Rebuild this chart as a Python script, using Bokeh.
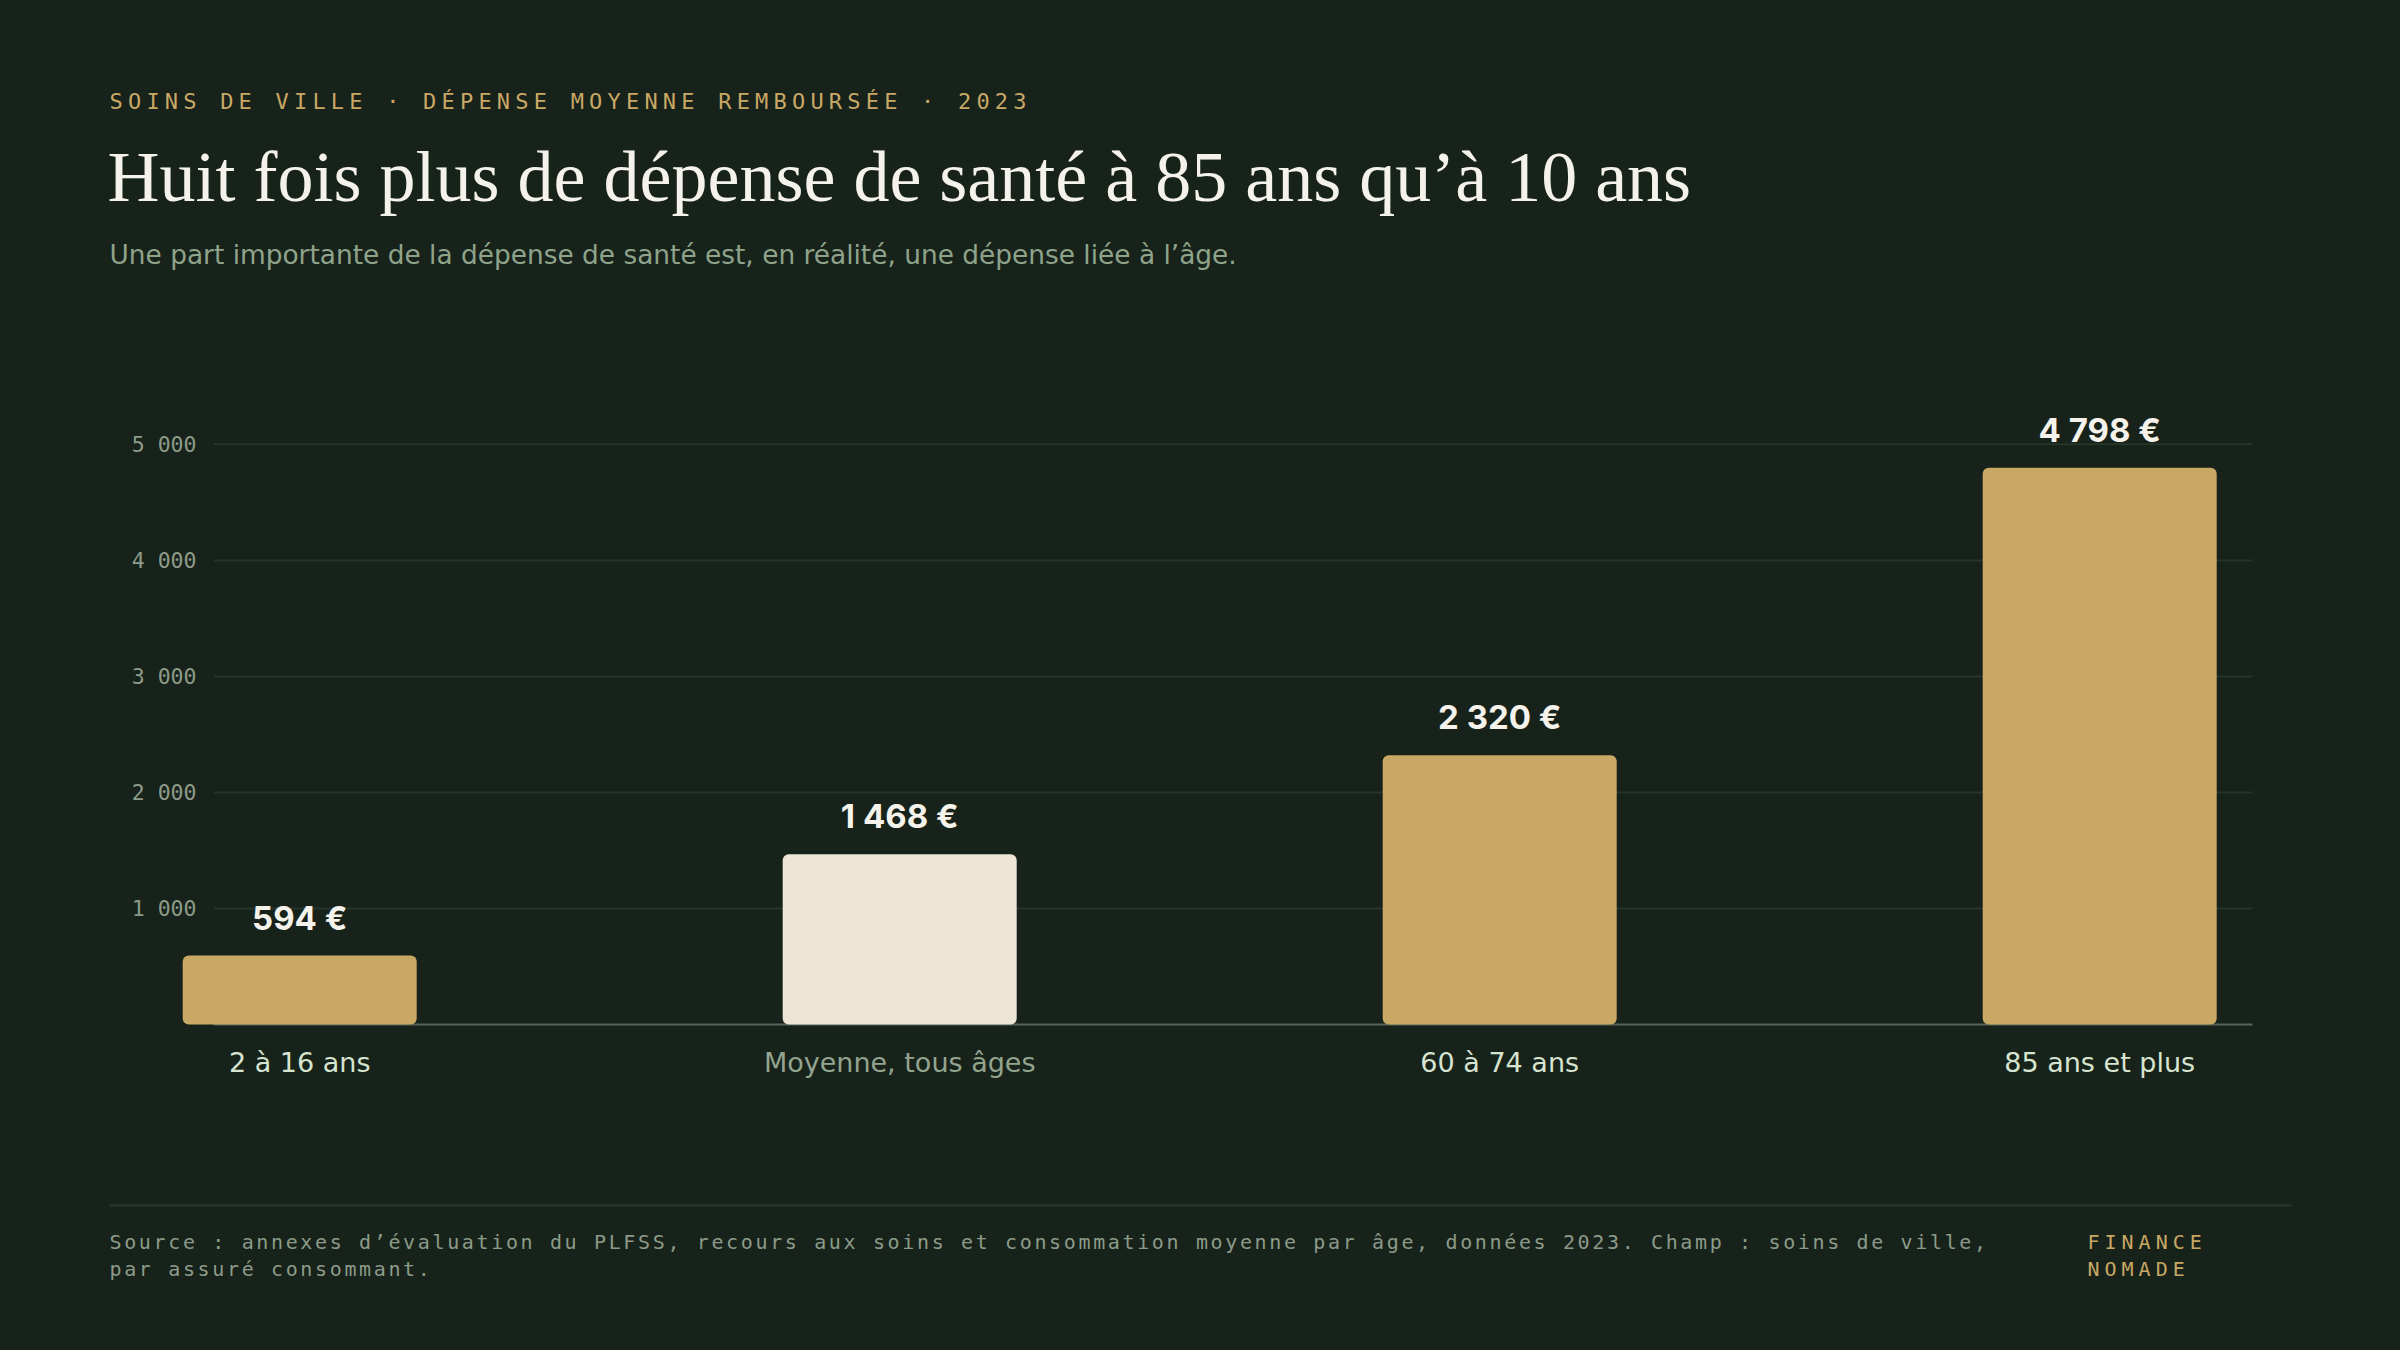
from bokeh.plotting import figure
from bokeh.models import Range1d, Label, ColumnDataSource
from bokeh.layouts import column, row
from bokeh.core.properties import value
from bokeh.embed import file_html
from bokeh.resources import INLINE

# ---------------- data ----------------
categories = ["2 à 16 ans", "Moyenne, tous âges", "60 à 74 ans", "85 ans et plus"]
values = [594, 1468, 2320, 4798]
bar_colors = ["#c9a865", "#ede6d6", "#c9a865", "#c9a865"]
label_colors = ["#d6e4d0", "#93a48f", "#d6e4d0", "#d6e4d0"]
y_ticks = [1000, 2000, 3000, 4000, 5000]

eyebrow = "SOINS DE VILLE · DÉPENSE MOYENNE REMBOURSÉE · 2023"
title = "Huit fois plus de dépense de santé à 85 ans qu’à 10 ans"
subtitle = "Une part importante de la dépense de santé est, en réalité, une dépense liée à l’âge."
source_lines = [
    "Source : annexes d’évaluation du PLFSS, recours aux soins et consommation moyenne par âge, données 2023. Champ : soins de ville,",
    "par assuré consommant.",
]
brand_lines = ["FINANCE", "NOMADE"]

# ---------------- style ----------------
BG = "#17221a"
GOLD = "#c9a865"
GRID = "#26342a"
BASE = "#56635a"
TICK = "#8c9b89"
WHITE = "#f4f2ea"
MUTED = "#8fa38b"
MONO = "DejaVu Sans Mono"
SANS = "DejaVu Sans"


def blank(w, h, xr, yr, ls=None):
    f = figure(width=w, height=h, x_range=xr, y_range=yr,
               x_axis_type=None, y_axis_type=None,
               output_backend="svg", toolbar_location=None, tools="",
               min_border=0, background_fill_color=BG, border_fill_color=BG,
               outline_line_color=None)
    if ls:
        f.styles = {"letter-spacing": ls}
    return f


def fmt(v):
    return f"{v:,}".replace(",", " ")


# ---- eyebrow (page px coords, y downward) ----
f1 = blank(2384, 122, Range1d(8, 2392), Range1d(130, 8), ls="5.2px")
f1.add_layout(Label(x=109, y=101, text=eyebrow, text_font=MONO, text_font_size="22px",
                    text_color=GOLD, text_baseline="alphabetic", text_align="left"))

# ---- title + subtitle ----
f2 = blank(2384, 170, Range1d(8, 2392), Range1d(300, 130))
f2.add_layout(Label(x=107, y=176, text=title, text_font="Liberation Serif",
                    text_font_size="72px", text_color=WHITE,
                    text_baseline="alphabetic", text_align="left"))
f2.add_layout(Label(x=109, y=254, text=subtitle, text_font=SANS,
                    text_font_size="26.4px", text_color=MUTED,
                    text_baseline="alphabetic", text_align="left"))

# ---- chart ----
X0_PX, STEP_PX = 299.2, 600.0          # page px of first bar centre, px per category
ZERO_PX, PX_PER_UNIT = 1024.0, 0.11603  # page px of value 0, px per euro
TOP_PX, BOT_PX = 300.0, 1215.0


def fx(px):
    return (px - X0_PX) / STEP_PX


def fy(px):
    return (ZERO_PX - px) / PX_PER_UNIT


f3 = blank(2384, int(BOT_PX - TOP_PX),
           Range1d(fx(8), fx(2392)), Range1d(fy(BOT_PX), fy(TOP_PX)))

xs = list(range(len(categories)))
src = ColumnDataSource(dict(
    x=xs, value=values, color=bar_colors, cat=categories, lcolor=label_colors,
    vlabel=[fmt(v) + " €" for v in values],
))
tick_src = ColumnDataSource(dict(
    y=y_ticks, label=[fmt(t) for t in y_ticks],
    x0=[fx(213)] * len(y_ticks), x1=[fx(2252)] * len(y_ticks),
))

# gridlines
f3.segment(x0="x0", y0="y", x1="x1", y1="y", line_color=GRID, line_width=2, source=tick_src)
# baseline
f3.segment(x0=[fx(213)], y0=[0], x1=[fx(2252)], y1=[0], line_color=BASE, line_width=2)
# tick labels
f3.text(x=fx(196), y="y", text="label", source=tick_src, text_font=value(MONO),
        text_font_size="21.5px", text_color=TICK, text_align="right", text_baseline="middle")
# bars
f3.vbar(x="x", top="value", bottom=0, width=234 / STEP_PX, fill_color="color",
        line_color=None, border_radius=6, source=src)
# value labels
f3.text(x="x", y="value", text="vlabel", source=src, y_offset=-38,
        text_font=value("Inter"), text_font_style="bold", text_font_size="33px",
        text_color=WHITE, text_align="center", text_baseline="alphabetic")
# category labels
f3.text(x="x", y=0, text="cat", source=src, y_offset=38,
        text_font=value(SANS), text_font_size="27px",
        text_color="lcolor", text_align="center", text_baseline="alphabetic")
# footer separator
f3.segment(x0=[fx(109)], y0=[fy(1205)], x1=[fx(2291)], y1=[fy(1205)],
           line_color="#2a382d", line_width=2)

# ---- footer ----
f4a = blank(2052, 127, Range1d(8, 2060), Range1d(1342, 1215), ls="2.64px")
for i, line in enumerate(source_lines):
    f4a.add_layout(Label(x=109, y=1241 + 27.7 * i, text=line, text_font=MONO,
                         text_font_size="20px", text_color=TICK,
                         text_baseline="alphabetic", text_align="left"))
f4b = blank(332, 127, Range1d(2060, 2392), Range1d(1342, 1215), ls="5px")
for i, line in enumerate(brand_lines):
    f4b.add_layout(Label(x=2087, y=1241 + 27.7 * i, text=line, text_font=MONO,
                         text_font_size="20px", text_color=GOLD,
                         text_baseline="alphabetic", text_align="left"))

p = column(f1, f2, f3, row(f4a, f4b, spacing=0), spacing=0)

html = file_html(p, INLINE)
html = html.replace("</head>", "<style>html,body{background:%s;margin:0;padding:0;}body{margin:8px;}</style></head>" % BG, 1)
open("out.html", "w").write(html)
